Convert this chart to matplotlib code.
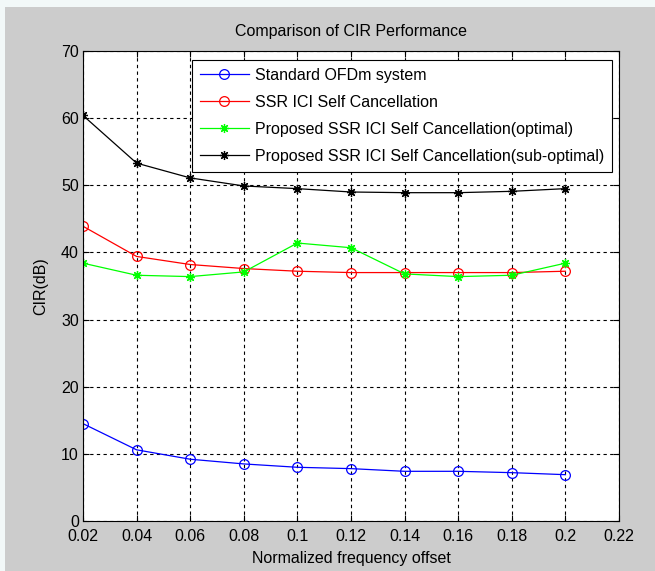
import matplotlib
matplotlib.use("Agg")
import matplotlib.pyplot as plt
from matplotlib.patches import Rectangle

x = [0.02, 0.04, 0.06, 0.08, 0.10, 0.12, 0.14, 0.16, 0.18, 0.20]
standard = [14.5, 10.6, 9.2, 8.5, 8.0, 7.8, 7.4, 7.4, 7.2, 6.9]
ssr = [43.9, 39.4, 38.2, 37.6, 37.2, 37.0, 37.0, 37.0, 37.0, 37.2]
optimal = [38.4, 36.6, 36.4, 37.1, 41.4, 40.7, 36.8, 36.4, 36.6, 38.4]
suboptimal = [60.4, 53.3, 51.1, 49.9, 49.5, 49.0, 48.9, 48.9, 49.1, 49.5]

labels = ["Standard OFDm system",
          "SSR ICI Self Cancellation",
          "Proposed SSR ICI Self Cancellation(optimal)",
          "Proposed SSR ICI Self Cancellation(sub-optimal)"]
xticks = [0.02, 0.04, 0.06, 0.08, 0.10, 0.12, 0.14, 0.16, 0.18, 0.20, 0.22]
xticklabels = ["0.02", "0.04", "0.06", "0.08", "0.1", "0.12", "0.14", "0.16", "0.18", "0.2", "0.22"]
yticks = [0, 10, 20, 30, 40, 50, 60, 70]

plt.rcParams['font.family'] = ['Liberation Sans', 'DejaVu Sans']
FS = 11.5

fig = plt.figure(figsize=(6.55, 5.71), dpi=100, facecolor='#cccccc')
# light screenshot margins
fig.patches.append(Rectangle((0, 1 - 7/571), 1, 7/571, transform=fig.transFigure,
                             facecolor='#f2f8f8', edgecolor='none', zorder=0))
fig.patches.append(Rectangle((0, 0), 5/655, 1, transform=fig.transFigure,
                             facecolor='#f2f8f8', edgecolor='none', zorder=0))

ax = fig.add_axes([83/655, 1 - 521/571, (619 - 83)/655, (521 - 51)/571])
ax.set_facecolor('white')

mk_star = (8, 2, 0)
ax.plot(x, standard, color='#0000ff', lw=0.9, marker='o', ms=7, mfc='none', mec='#0000ff', mew=0.9, label=labels[0])
ax.plot(x, ssr, color='#ff0000', lw=0.9, marker='o', ms=7, mfc='none', mec='#ff0000', mew=0.9, label=labels[1])
ax.plot(x, optimal, color='#00ff00', lw=0.9, marker=mk_star, ms=6.5, mec='#00ff00', mew=0.9, label=labels[2])
ax.plot(x, suboptimal, color='#000000', lw=0.9, marker=mk_star, ms=6.5, mec='#000000', mew=0.9, label=labels[3])

ax.set_xlim(0.02, 0.22)
ax.set_ylim(0, 70)
ax.set_xticks(xticks)
ax.set_xticklabels(xticklabels)
ax.set_yticks(yticks)
ax.tick_params(direction='in', length=4, width=0.8, top=True, right=True,
               labelsize=FS, colors='black')
ax.tick_params(axis='x', pad=6)
ax.tick_params(axis='y', pad=3)
ax.grid(True, color='black', linestyle=(0, (3, 3)), linewidth=0.8)
for s in ax.spines.values():
    s.set_linewidth(0.8)
    s.set_color('black')

ax.set_title("Comparison of CIR Performance", fontsize=FS, pad=11)
ax.set_xlabel("Normalized frequency offset", fontsize=FS, labelpad=5)
ax.set_ylabel("CIR(dB)", fontsize=FS, labelpad=9)

leg = ax.legend(loc='upper right', bbox_to_anchor=(0.987, 0.981), borderaxespad=0,
                fontsize=FS, fancybox=False, edgecolor='black', framealpha=1,
                handlelength=3.1, handletextpad=0.35, labelspacing=0.75,
                borderpad=0.5)
leg.get_frame().set_linewidth(0.8)

fig.savefig("out.png", dpi=100, facecolor=fig.get_facecolor())
